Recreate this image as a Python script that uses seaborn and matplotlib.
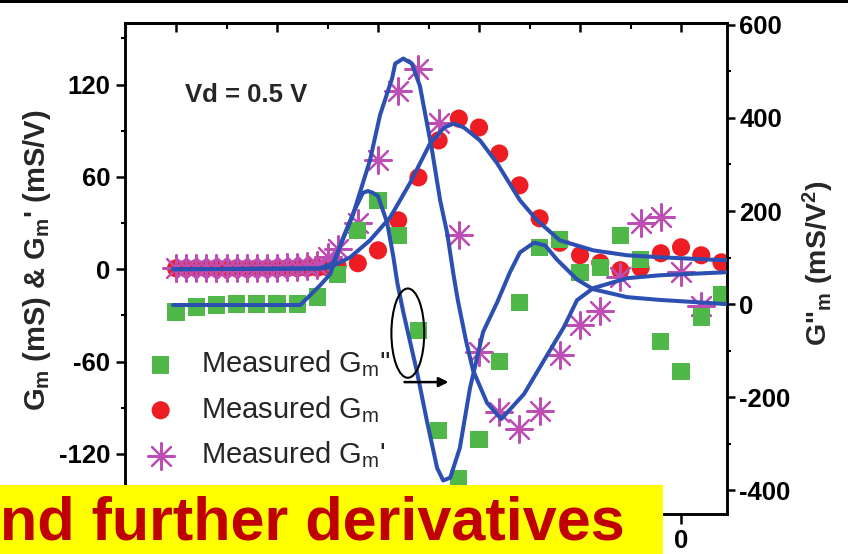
import matplotlib
matplotlib.use("Agg")
import matplotlib.pyplot as plt
import pandas as pd
import seaborn as sns
from matplotlib.patches import Ellipse, Rectangle
from matplotlib.ticker import MultipleLocator, FuncFormatter

# ---------------- measured data (gate voltage in V) ----------------
gm_vg = [-1.00, -0.98, -0.96, -0.94, -0.92, -0.90, -0.88, -0.86, -0.84, -0.82,
         -0.80, -0.78, -0.76, -0.74, -0.72, -0.70, -0.68, -0.64, -0.60, -0.56,
         -0.52, -0.48, -0.44, -0.40, -0.36, -0.32, -0.28, -0.24, -0.20, -0.16,
         -0.12, -0.08, -0.04, 0.00, 0.04, 0.08]
gm_val = [0.6, 0.5, 0.6, 0.5, 0.6, 0.5, 0.6, 0.5, 0.6, 0.5,
          0.6, 0.7, 0.8, 0.9, 1.0, 1.3, 2.0, 3.9, 12.3, 31.8,
          59.7, 83.7, 97.9, 92.1, 75.2, 54.5, 33.1, 17.2, 9.1, 4.2,
          -0.6, 1.0, 10.4, 14.3, 9.1, 4.5]

gmp_vg = [-1.00, -0.98, -0.96, -0.94, -0.92, -0.90, -0.88, -0.86, -0.84, -0.82,
          -0.80, -0.78, -0.76, -0.74, -0.72, -0.70, -0.68, -0.64, -0.60, -0.56,
          -0.52, -0.48, -0.44, -0.40, -0.36, -0.32, -0.28, -0.24, -0.20, -0.16,
          -0.12, -0.08, -0.04, 0.00, 0.04]
gmp_val = [1.0, 0.8, 1.0, 0.8, 1.0, 0.8, 1.0, 0.8, 1.0, 0.8,
           1.0, 1.2, 1.5, 2.0, 3.0, 8.0, 13.0, 30.0, 71.0, 116.0,
           130.0, 95.0, 22.0, -54.0, -93.0, -104.0, -92.0, -56.0, -36.0, -27.0,
           -5.0, 30.0, 34.0, -2.0, -24.0]

gmpp_vg = [-1.00, -0.96, -0.92, -0.88, -0.84, -0.80, -0.76, -0.72, -0.68, -0.64,
           -0.60, -0.56, -0.52, -0.48, -0.44, -0.40, -0.36, -0.32, -0.28, -0.24,
           -0.20, -0.16, -0.12, -0.08, -0.04, 0.00, 0.04, 0.08]
gmpp_val = [-17, -6, -2, 0, 0, 0, 0, 15, 64, 158,
            222, 148, -56, -272, -374, -291, -124, 4, 122, 139,
            68, 79, 148, 96, -81, -145, -28, 21]

# ---------------- model curves ----------------
fit_gm_vg = [-1.006, -0.715, -0.695, -0.655, -0.616, -0.576, -0.537, -0.497, -0.469, -0.450,
             -0.430, -0.398, -0.364, -0.319, -0.285, -0.240, -0.174, -0.107, -0.042, 0.091]
fit_gm = [0, 0.5, 1.3, 7.8, 18.8, 33.7, 55.8, 81.7, 92.1, 94.7,
          92.1, 83.7, 68.8, 44.8, 31.8, 18.8, 12.3, 9.1, 7.8, 5.8]

fit_gmp_vg = [-1.006, -0.715, -0.689, -0.650, -0.616, -0.596, -0.572, -0.566, -0.550, -0.533,
              -0.517, -0.493, -0.477, -0.463, -0.451, -0.442, -0.426, -0.412, -0.384, -0.356,
              -0.311, -0.271, -0.232, -0.206, -0.174, -0.107, -0.042, 0.091]
fit_gmp = [0, 0.6, 3.9, 35.0, 70.7, 100.2, 124.2, 133.6, 136.9, 133.6,
           119.0, 77.2, 44.8, 23.4, -2.6, -20.1, -46.0, -65.5, -86.9, -97.3,
           -81.1, -59.0, -37.6, -20.1, -12.3, -5.8, -3.9, -1.9]

fit_gmpp_vg = [-1.006, -0.754, -0.715, -0.695, -0.669, -0.646, -0.630, -0.620, -0.610, -0.600,
               -0.582, -0.570, -0.562, -0.550, -0.523, -0.503, -0.483, -0.471, -0.457, -0.438,
               -0.418, -0.392, -0.364, -0.339, -0.319, -0.291, -0.269, -0.246, -0.206, -0.174,
               -0.107, -0.042, 0.091]
fit_gmpp = [-2, -2, 40, 64, 143, 203, 239, 243, 239, 232,
            175, 104, 47, -17, -145, -252, -352, -379, -373, -309,
            -181, -60, 4, 68, 111, 132, 126, 96, 53, 32,
            15, 9, 0]

legend_labels = ["Measured G$_m$''", "Measured G$_m$", "Measured G$_m$'"]

# ---------------- style ----------------
sns.set_theme(style="ticks")
plt.rcParams.update({
    "font.family": ["Liberation Sans", "DejaVu Sans"],
    "font.weight": "bold",
    "mathtext.default": "regular",
    "axes.unicode_minus": False,
    "axes.linewidth": 1.8,
    "axes.edgecolor": "black",
    "xtick.color": "black",
    "ytick.color": "black",
})

GREEN = "#4fb848"
RED = "#ee1d23"
MAGENTA = "#bd4fb4"
BLUE = "#2c4fb2"

W, H = 848, 554
fig = plt.figure(figsize=(W / 100, H / 100), dpi=100)
rect = [125 / W, 40 / H, 602 / W, 491 / H]
ax = fig.add_axes(rect)
ax2 = ax.twinx()
ax3 = fig.add_axes(rect, sharex=ax, sharey=ax)
ax3.set_axis_off()
ax3.patch.set_visible(False)

df_gm = pd.DataFrame({"vg": gm_vg, "val": gm_val})
df_gmp = pd.DataFrame({"vg": gmp_vg, "val": gmp_val})
df_gmpp = pd.DataFrame({"vg": gmpp_vg, "val": gmpp_val})

# measured points
sns.scatterplot(data=df_gm, x="vg", y="val", ax=ax, marker="o", s=170,
                color=RED, edgecolor="none", label=legend_labels[1], legend=False, zorder=2)
sns.scatterplot(data=df_gmp, x="vg", y="val", ax=ax, marker=(8, 2, 0), s=370,
                color=MAGENTA, edgecolor=MAGENTA, linewidth=1.6,
                label=legend_labels[2], legend=False, zorder=3)
sns.scatterplot(data=df_gmpp, x="vg", y="val", ax=ax2, marker="s", s=155,
                color=GREEN, edgecolor="none", label=legend_labels[0], legend=False, zorder=2)

# model curves
sns.lineplot(x=fit_gmpp_vg, y=fit_gmpp, ax=ax2, color=BLUE, lw=2.9,
             estimator=None, sort=False, zorder=4, legend=False)
sns.lineplot(x=fit_gm_vg, y=fit_gm, ax=ax3, color=BLUE, lw=2.9,
             estimator=None, sort=False, legend=False)
sns.lineplot(x=fit_gmp_vg, y=fit_gmp, ax=ax3, color=BLUE, lw=2.9,
             estimator=None, sort=False, legend=False)
for a in (ax, ax2):
    if a.get_legend() is not None:
        a.get_legend().remove()
for line in ax2.get_lines() + ax3.get_lines():
    line.set_solid_joinstyle("round")
    line.set_solid_capstyle("round")

# axes limits and ticks
ax.set_xlim(-1.101, 0.091)
ax.set_ylim(-159, 160)
ax2.set_ylim(-451, 604)

ax.xaxis.set_major_locator(MultipleLocator(0.2))
ax.xaxis.set_minor_locator(MultipleLocator(0.1))
ax.xaxis.set_major_formatter(FuncFormatter(lambda v, p: "0" if abs(v) < 1e-9 else ""))
ax.yaxis.set_major_locator(MultipleLocator(60))
ax.yaxis.set_minor_locator(MultipleLocator(30))
ax2.yaxis.set_major_locator(MultipleLocator(200))
ax2.yaxis.set_minor_locator(MultipleLocator(100))

ax.tick_params(axis="x", which="major", direction="out", length=7.5, width=1.8,
               labelsize=18.5, pad=3, top=False)
ax.tick_params(axis="x", which="minor", direction="out", length=4, width=1.5, top=False)
ax.tick_params(axis="y", which="major", direction="out", length=6.5, width=1.8,
               labelsize=18.5, pad=4, right=False)
ax.tick_params(axis="y", which="minor", direction="out", length=3, width=1.5, right=False)
ax2.tick_params(axis="y", which="major", direction="out", length=6, width=1.8,
                labelsize=18.5, pad=3)
ax2.tick_params(axis="y", which="minor", direction="out", length=3, width=1.5)

top = ax.secondary_xaxis("top")
top.xaxis.set_major_locator(MultipleLocator(0.2))
top.xaxis.set_minor_locator(MultipleLocator(0.1))
top.tick_params(axis="x", which="major", direction="in", length=6.5, width=1.8, labeltop=False)
top.tick_params(axis="x", which="minor", direction="in", length=4, width=1.5)

for t in ax.get_xticklabels() + ax.get_yticklabels() + ax2.get_yticklabels():
    t.set_fontweight("bold")

ax.set_xlabel("")
ax.set_ylabel("G$_m$ (mS) & G$_m$' (mS/V)", fontsize=21, fontweight="bold")
ax.yaxis.set_label_coords(-0.12, 0.517)
ax2.set_ylabel("G''$_m$ (mS/V$^2$)", fontsize=20.5, fontweight="bold")
ax2.yaxis.set_label_coords(1.123, 0.51)

ax.text(0.0997, 0.853, "Vd = 0.5 V", transform=ax.transAxes, fontsize=18.5,
        fontweight="bold", ha="left", va="center")

# highlighted region and pointer
ax3.add_patch(Ellipse((-0.541, -41.5), 0.065, 58, fill=False, edgecolor="black", lw=1.5))
ax3.annotate("", xy=(-0.455, -73.3), xytext=(-0.553, -73.3),
             arrowprops=dict(arrowstyle="-|>", color="black", lw=1.8, mutation_scale=14))

# legend
h1, l1 = ax.get_legend_handles_labels()
h2, l2 = ax2.get_legend_handles_labels()
handles = {lab: h for h, lab in zip(h1 + h2, l1 + l2)}
ax3.legend([handles[k] for k in legend_labels], legend_labels, loc="upper left",
           bbox_to_anchor=(0.035, 0.337), frameon=False, borderpad=0, borderaxespad=0,
           handlelength=1.0, handletextpad=0.9, labelspacing=0.5,
           prop={"family": ["Liberation Sans"], "weight": "normal", "size": 21})

# banner and top strip
fig.add_artist(Rectangle((0, 1 - 3 / H), 1, 3 / H, transform=fig.transFigure,
                         facecolor="black", edgecolor="none", zorder=10))
fig.add_artist(Rectangle((0, 0), 663 / W, 69 / H, transform=fig.transFigure,
                         facecolor="#ffff00", edgecolor="none", zorder=10))
fig.text(0, 14 / H, "nd further derivatives", color="#c00000", fontsize=44,
         fontweight="bold", ha="left", va="baseline", zorder=11)

fig.savefig("out.png", dpi=100)
